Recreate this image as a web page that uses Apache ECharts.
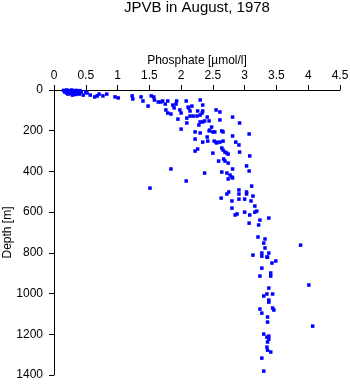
<!DOCTYPE html>
<html>
<head>
<meta charset="utf-8">
<script src="https://cdn.jsdelivr.net/npm/echarts@6/dist/echarts.min.js"></script>
<style>html,body{margin:0;padding:0;background:#fff}#c{width:350px;height:384px}</style>
</head>
<body>
<div id="c"></div>
<script>
const titleText = "JPVB in August, 1978";
const xName = "Phosphate [µmol/l]";
const yName = "Depth [m]";
const xTicks = [0, 0.5, 1, 1.5, 2, 2.5, 3, 3.5, 4, 4.5];
const yTicks = [0, 200, 400, 600, 800, 1000, 1200, 1400];

// [phosphate, depth]
const surfacePts = [
  [0.15,2],[0.18,5],[0.2,0],[0.22,8],[0.24,3],[0.25,12],[0.27,5],[0.28,0],[0.3,10],[0.3,18],
  [0.32,4],[0.33,15],[0.35,2],[0.36,8],[0.38,12],[0.4,5],[0.4,20],[0.2,15],[0.26,18],[0.22,20],
  [0.34,22],[0.29,25],[0.37,18],[0.17,10],[0.41,3],[0.43,10],[0.46,25],[0.5,10],[0.52,15],[0.57,25]
];
const upperPts = [
  [0.64,34],[0.68,29],[0.71,20],[0.77,29],[0.83,20],[0.96,34],[1.01,39],[1.23,29],[1.24,44],[1.37,34],
  [1.40,54],[1.48,79],[1.53,29],[1.57,34],[1.58,49],[1.64,59],[1.68,59],[1.71,54],[1.75,69],[1.76,98],
  [1.79,54],[1.79,113],[1.84,118],[1.87,74],[1.89,88],[1.92,69],[1.93,54],[1.95,143],[1.98,98],[2.00,113],
  [2.00,192],[2.08,54],[2.11,84],[2.12,88],[2.09,138],[2.09,162],[2.14,103],[2.17,79],[2.14,128],[2.19,128],
  [2.25,128],[2.30,123],[2.33,113],[2.34,103],[2.26,103],[2.30,49],[2.34,74],[2.22,206],[2.28,172],[2.30,157],
  [2.34,157],[2.37,152],[2.41,133],[2.44,152],[2.30,211],[2.44,201],[2.45,197],[2.50,206],[2.53,206],[2.48,182],
  [2.55,98],[2.61,108],[2.61,147],[2.64,201],[2.66,206],[2.81,133],[2.92,162],[3.07,216]
];
const midPts = [
  [2.22,241],[2.34,256],[2.41,231],[2.42,251],[2.52,251],[2.55,256],[2.56,260],[2.61,256],[2.66,251],[2.81,226],
  [2.86,256],[2.91,270],[2.26,290],[2.22,300],[2.50,310],[2.64,285],[2.66,295],[2.69,305],[2.72,310],[2.74,315],
  [2.92,305],[3.08,324],[2.59,349],[2.67,339],[2.69,349],[2.74,359],[1.84,388],[2.37,408],[2.64,403],[2.72,408],
  [2.77,418],[2.80,428],[2.81,432],[2.74,437],[2.81,388],[3.03,373],[3.07,398],[2.08,447],[1.51,482],[3.11,472],
  [2.91,491],[2.91,511],[2.91,536],[2.75,501],[2.72,511],[3.03,501],[3.03,511],[2.63,531],[2.80,545],[3.00,536],
  [3.13,521],[3.10,545],[3.16,570],[2.80,580],[3.19,595],[3.16,600],[3.00,600],[3.08,614],[2.88,609],[2.85,614],
  [3.38,629],[3.24,639],[3.07,654],[3.22,663]
];
const deepPts = [
  [3.21,722],[3.32,732],[3.30,752],[3.32,776],[3.38,801],[3.13,811],[3.27,801],[3.27,816],[3.35,821],[3.36,821],
  [3.49,840],[3.43,850],[3.88,762],[3.27,875],[3.41,899],[3.41,914],[3.24,914],[3.38,973],[3.30,1012],[3.35,1002],
  [3.44,1002],[3.38,1032],[3.38,1042],[4.01,958],[3.24,1076],[3.44,1071],[3.46,1081],[3.27,1096],[3.36,1115],[3.36,1140],
  [4.07,1160],[3.30,1199],[3.38,1209],[3.35,1214],[3.38,1224],[3.36,1238],[3.35,1263],[3.36,1278],[3.41,1287],[3.27,1317],
  [3.30,1381]
];
const allPts = surfacePts.concat(upperPts, midPts, deepPts);

const font = "'Liberation Sans', Arial, sans-serif";
const chart = echarts.init(document.getElementById('c'), null, {renderer: 'canvas'});
chart.setOption({
  animation: false,
  backgroundColor: '#fff',
  graphic: [{
    type: 'text', x: 197, y: 8,
    style: {text: titleText, x: 0, y: 0, align: 'center', verticalAlign: 'middle',
      font: "15px 'Liberation Sans', Arial, sans-serif", fill: '#000'}
  }],
  grid: {left: 54, right: 10, top: 90, bottom: 9, containLabel: false, outerBoundsMode: 'none'},
  xAxis: {
    type: 'value', position: 'top', min: 0, max: 4.5, interval: 0.5,
    name: xName, nameLocation: 'middle', nameGap: 23, nameMoveOverlap: false,
    nameTextStyle: {fontFamily: font, fontSize: 12, color: '#000'},
    axisLine: {show: true, lineStyle: {color: '#000', width: 1}},
    axisTick: {show: true, inside: false, length: 5, lineStyle: {color: '#000'}},
    axisLabel: {fontFamily: font, fontSize: 12, color: '#000', margin: 8,
      formatter: v => xTicks.includes(v) ? String(v) : ''},
    splitLine: {show: false}
  },
  yAxis: {
    type: 'value', inverse: true, min: 0, max: 1400, interval: 200,
    name: yName, nameLocation: 'middle', nameGap: 40, nameRotate: 90, nameMoveOverlap: false,
    nameTextStyle: {fontFamily: font, fontSize: 12, color: '#000'},
    axisLine: {show: true, onZero: false, lineStyle: {color: '#000', width: 1}},
    axisTick: {show: true, inside: false, length: 5, lineStyle: {color: '#000'}},
    axisLabel: {fontFamily: font, fontSize: 12, color: '#000', margin: 11,
      formatter: v => yTicks.includes(v) ? String(v) : ''},
    splitLine: {show: false}
  },
  series: [{
    type: 'scatter', data: allPts, symbol: 'rect', symbolSize: 3.5,
    itemStyle: {color: '#0000ff', opacity: 1}
  }]
});
</script>
</body>
</html>
